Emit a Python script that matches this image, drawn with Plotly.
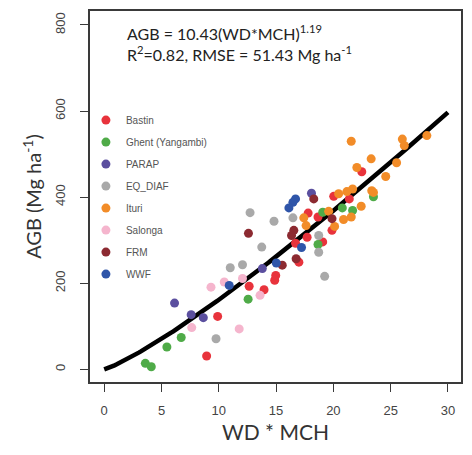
import numpy as np
import plotly.graph_objects as go

# ---- data ----
series_names = ["Bastin", "Ghent (Yangambi)", "PARAP", "EQ_DIAF", "Ituri", "Salonga", "FRM", "WWF"]
series_colors = ["#e8333c", "#4fab48", "#5b4f9f", "#a9a9a9", "#f28c28", "#f5b5cd", "#8c2a31", "#2f55a9"]

bastin_x = [22.48, 20.03, 21.39, 17.8, 18.66, 19.88, 17.71, 16.7, 19.07, 16.99, 14.97, 14.88, 12.65, 13.95, 9.9, 8.94]
bastin_y = [459, 402, 396, 363, 354, 323, 307, 293, 296, 249, 218, 207, 193, 185, 123, 31]

ghent_x = [19.07, 21.68, 20.78, 23.5, 18.66, 12.56, 6.72, 5.47, 3.59, 4.11]
ghent_y = [365, 369, 375, 401, 290, 163, 74, 52, 14, 6]

parap_x = [18.09, 13.8, 6.14, 7.59, 8.65]
parap_y = [409, 234, 154, 127, 120]

eqdiaf_x = [12.73, 14.82, 16.47, 13.75, 11.0, 12.07, 18.72, 18.72, 19.24, 9.76]
eqdiaf_y = [364, 344, 352, 284, 236, 243, 311, 272, 216, 71]

ituri_x = [21.56, 26.02, 26.19, 28.16, 23.3, 22.05, 25.52, 24.57, 23.35, 23.5, 22.43, 21.68, 21.18, 20.46, 21.56, 20.89, 20.11, 17.42, 17.62, 19.59]
ituri_y = [530, 535, 520, 543, 489, 469, 480, 448, 415, 411, 379, 419, 413, 408, 354, 348, 332, 352, 334, 367]

salonga_x = [9.32, 10.48, 12.07, 13.6, 7.64, 11.78]
salonga_y = [191, 203, 211, 172, 97, 94]

frm_x = [12.59, 18.29, 19.88, 16.55, 16.35, 16.75, 15.54]
frm_y = [316, 396, 350, 323, 311, 257, 242]

wwf_x = [16.7, 16.47, 16.12, 17.22, 15.02, 10.91]
wwf_y = [396, 388, 375, 283, 247, 195]

series_x = [bastin_x, ghent_x, parap_x, eqdiaf_x, ituri_x, salonga_x, frm_x, wwf_x]
series_y = [bastin_y, ghent_y, parap_y, eqdiaf_y, ituri_y, salonga_y, frm_y, wwf_y]

fit_a = 10.43
fit_b = 1.19
x_ticks = [0, 5, 10, 15, 20, 25, 30]
y_ticks = [0, 200, 400, 600, 800]

fig = go.Figure()

# fitted model curve
fx = np.linspace(0, 30, 200)
fig.add_trace(go.Scatter(x=fx, y=fit_a * fx ** fit_b, mode="lines",
                         line=dict(color="black", width=4.5), showlegend=False,
                         hoverinfo="skip"))

for name, color, xs, ys in zip(series_names, series_colors, series_x, series_y):
    fig.add_trace(go.Scatter(x=xs, y=ys, mode="markers", name=name, legendgroup=name,
                             marker=dict(color=color, size=9, line=dict(width=0))))

axis_common = dict(showline=True, linecolor="#3a3a3a", linewidth=1.5, mirror=True,
                   ticks="outside", ticklen=8, tickwidth=1.2, tickcolor="#3a3a3a",
                   showgrid=False, zeroline=False,
                   tickfont=dict(family="Liberation Sans", size=13, color="#444444"))

fig.update_layout(
    width=472, height=455,
    margin=dict(l=90, r=9, t=10, b=73),
    paper_bgcolor="white", plot_bgcolor="white",
    xaxis=dict(range=[-1.24, 31.14], tickvals=x_ticks, ticklabelstandoff=8,
               title=dict(text="WD * MCH", font=dict(family="Lato", size=21, color="#333333"),
                          standoff=8),
               **axis_common),
    yaxis=dict(range=[-29.4, 832.5], tickvals=y_ticks, tickangle=-90, ticklabelstandoff=10,
               title=dict(text="AGB (Mg ha<sup>-1</sup>)", font=dict(family="Lato", size=20, color="#333333"),
                          standoff=6),
               **axis_common),
    legend=dict(x=-0.011, y=0.745, xanchor="left", yanchor="top",
                bgcolor="rgba(0,0,0,0)", tracegroupgap=3,
                font=dict(family="Liberation Sans", size=10, color="#555555"),
                itemwidth=30),
    showlegend=True,
)

fig.add_annotation(xref="paper", yref="paper", x=0.095, y=0.975, xanchor="left", yanchor="top",
                   align="left", showarrow=False,
                   text="AGB = 10.43(WD*MCH)<sup>1.19</sup><br>R<sup>2</sup>=0.82, RMSE = 51.43 Mg ha<sup>-1</sup>",
                   font=dict(family="Lato", size=16, color="#222222"))

fig.write_html("out.html")
